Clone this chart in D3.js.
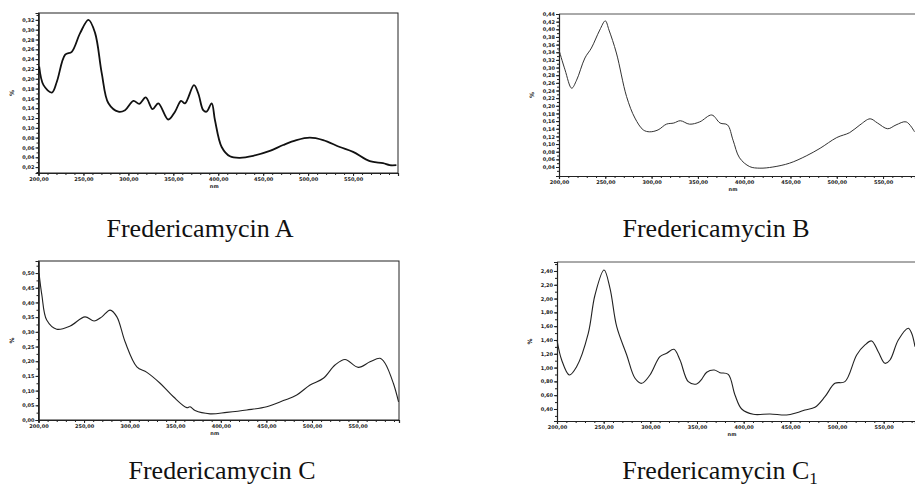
<!DOCTYPE html>
<html>
<head>
<meta charset="utf-8">
<script src="https://cdn.jsdelivr.net/npm/d3@7"></script>
<style>
	body { margin: 0; background: #fff; }
	svg { display: block; }
	.tick-label { font-family: "DejaVu Sans", sans-serif; font-size: 5px; font-weight: bold; fill: #222; }
	.title { font-family: "Liberation Serif", "Times New Roman", serif; font-size: 26px; fill: #111; }
</style>
</head>
<body>
<svg id="chart" width="915" height="488"></svg>
<script>
// Fredericamycin A
const aNm = [200.8, 205.6, 214.9, 220.4, 229.7, 237, 246.3, 255.6, 263, 270.4, 277.8, 288.9, 296.3, 305.6, 312.2, 319.3, 327, 333.3, 344.4, 351.9, 358.6, 363, 373, 377.8, 383.3, 387, 392.7, 396.3, 403.8, 413, 424, 438.9, 457.4, 472.2, 487, 501.9, 516.7, 535.2, 550, 568.6, 583.3, 590.8, 598.2];
const aAbs = [0.225, 0.187, 0.172, 0.194, 0.249, 0.255, 0.293, 0.320, 0.293, 0.211, 0.150, 0.133, 0.136, 0.155, 0.149, 0.162, 0.138, 0.150, 0.117, 0.133, 0.155, 0.150, 0.187, 0.170, 0.136, 0.133, 0.150, 0.116, 0.061, 0.042, 0.039, 0.043, 0.053, 0.065, 0.075, 0.080, 0.075, 0.061, 0.051, 0.032, 0.028, 0.024, 0.024];
const aYTicks = [0.02, 0.04, 0.06, 0.08, 0.10, 0.12, 0.14, 0.16, 0.18, 0.20, 0.22, 0.24, 0.26, 0.28, 0.30, 0.32];

// Fredericamycin B
const bNm = [200, 206.5, 213.7, 219, 228, 235, 244, 250, 254, 262, 273, 282, 291, 298, 307, 316, 324, 331, 341, 352, 365, 374, 382, 388, 395, 406, 417, 431, 449, 467, 482, 500, 514, 525, 536, 544, 555, 564, 575, 584];
const bAbs = [0.346, 0.294, 0.246, 0.267, 0.325, 0.351, 0.398, 0.422, 0.398, 0.338, 0.224, 0.168, 0.137, 0.132, 0.137, 0.152, 0.155, 0.161, 0.152, 0.158, 0.176, 0.155, 0.150, 0.110, 0.064, 0.041, 0.037, 0.040, 0.050, 0.069, 0.089, 0.117, 0.130, 0.150, 0.166, 0.155, 0.140, 0.150, 0.158, 0.132];
const bYTicks = [0.04, 0.06, 0.08, 0.10, 0.12, 0.14, 0.16, 0.18, 0.20, 0.22, 0.24, 0.26, 0.28, 0.30, 0.32, 0.34, 0.36, 0.38, 0.40, 0.42, 0.44];

// Fredericamycin C
const cNm = [200.6, 203.7, 209, 220, 234.8, 251, 261, 269.5, 278.6, 286, 295, 307.9, 318.9, 333.4, 348, 362.7, 366.3, 371.8, 388.3, 406.6, 428.5, 450.4, 468.6, 483.3, 497.9, 512.5, 525.3, 536.3, 550.9, 563.7, 574.7, 580.2, 589.3, 595];
const cAbs = [0.499, 0.425, 0.340, 0.309, 0.320, 0.351, 0.337, 0.351, 0.374, 0.351, 0.266, 0.181, 0.162, 0.125, 0.079, 0.042, 0.045, 0.032, 0.021, 0.026, 0.034, 0.045, 0.066, 0.085, 0.119, 0.142, 0.187, 0.206, 0.179, 0.198, 0.210, 0.193, 0.125, 0.062];
const cYTicks = [0.00, 0.05, 0.10, 0.15, 0.20, 0.25, 0.30, 0.35, 0.40, 0.45, 0.50];

// Fredericamycin C1
const dNm = [200, 205, 213.2, 221, 233.5, 240.7, 250.4, 256.8, 264, 274.7, 283.6, 290.7, 299.6, 310.3, 317.5, 325.3, 331.8, 340.7, 349.7, 355, 360.4, 368.5, 374.6, 383.5, 390.7, 397.9, 410.3, 428.2, 446, 456.8, 465.7, 476.4, 487.1, 497.8, 508.5, 521.1, 530, 537.1, 544.2, 551.4, 556.8, 565.7, 576.4, 580, 583.6];
const dAbs = [1.40, 1.11, 0.893, 1.013, 1.497, 2.052, 2.414, 2.149, 1.593, 1.183, 0.845, 0.772, 0.893, 1.158, 1.207, 1.265, 1.11, 0.796, 0.762, 0.83, 0.932, 0.965, 0.926, 0.902, 0.603, 0.40, 0.323, 0.328, 0.313, 0.346, 0.386, 0.425, 0.578, 0.772, 0.796, 1.183, 1.328, 1.386, 1.23, 1.062, 1.11, 1.40, 1.57, 1.497, 1.303];
const dYTicks = [0.40, 0.60, 0.80, 1.00, 1.20, 1.40, 1.60, 1.80, 2.00, 2.20, 2.40];

const xTicks = [200, 250, 300, 350, 400, 450, 500, 550];
const titles = ["Fredericamycin A", "Fredericamycin B", "Fredericamycin C", "Fredericamycin C"];

// layout of the four panels (pixel boxes + domains)
const panels = [
	{ nm: aNm, abs: aAbs, yTicks: aYTicks, title: titles[0], sub: "",
		box: { l: 38.5, t: 13, r: 398, b: 173 }, xDom: [200, 600], yDom: [0.008, 0.334],
		width: 1.8, color: "#111", fullFrame: true, titlePos: [200, 237] },
	{ nm: bNm, abs: bAbs, yTicks: bYTicks, title: titles[1], sub: "",
		box: { l: 559, t: 14, r: 915, b: 176 }, xDom: [200, 584.5], yDom: [0.0165, 0.44],
		width: 1, color: "#333", fullFrame: false, titlePos: [716, 237] },
	{ nm: cNm, abs: cAbs, yTicks: cYTicks, title: titles[2], sub: "",
		box: { l: 38.5, t: 261, r: 399, b: 420 }, xDom: [200, 595.5], yDom: [0, 0.541],
		width: 1.1, color: "#222", fullFrame: true, titlePos: [222, 479] },
	{ nm: dNm, abs: dAbs, yTicks: dYTicks, title: titles[3], sub: "1",
		box: { l: 557, t: 262, r: 915, b: 421 }, xDom: [200, 583.6], yDom: [0.226, 2.53],
		width: 1.1, color: "#222", fullFrame: false, titlePos: [720, 479] }
];

const svg = d3.select("#chart");
const comma = f => v => d3.format(f)(v).replace(".", ",");

panels.forEach(p => {
	const g = svg.append("g");
	const x = d3.scaleLinear().domain(p.xDom).range([p.box.l, p.box.r]);
	const y = d3.scaleLinear().domain(p.yDom).range([p.box.b, p.box.t]);

	// frame
	if (p.fullFrame) {
		g.append("rect")
			.attr("x", p.box.l).attr("y", p.box.t)
			.attr("width", p.box.r - p.box.l).attr("height", p.box.b - p.box.t)
			.attr("fill", "none").attr("stroke", "#222").attr("stroke-width", 1);
	} else {
		g.append("line")
			.attr("x1", p.box.l).attr("x2", p.box.r)
			.attr("y1", p.box.t).attr("y2", p.box.t)
			.attr("stroke", "#555").attr("stroke-width", 1);
	}

	// minor ticks
	const xAxisMinor = d3.axisBottom(x).tickValues(d3.range(200, p.xDom[1], 10)).tickSize(2).tickFormat("");
	g.append("g").attr("transform", `translate(0,${p.box.b})`).call(xAxisMinor)
		.call(a => a.selectAll("line,path").attr("stroke", "#222"));

	const step = p.yTicks[1] - p.yTicks[0];
	const yMinor = d3.range(p.yTicks[0] - step / 2, p.yDom[1], step / 2).filter(v => v >= p.yDom[0]);
	g.append("g").attr("transform", `translate(${p.box.l},0)`)
		.call(d3.axisLeft(y).tickValues(yMinor).tickSize(2).tickFormat(""))
		.call(a => a.selectAll("line,path").attr("stroke", "#222"));

	// major axes
	const xAxis = d3.axisBottom(x).tickValues(xTicks).tickSize(3).tickPadding(1).tickFormat(comma(".2f"));
	g.append("g").attr("transform", `translate(0,${p.box.b})`).call(xAxis)
		.call(a => a.select(".domain").attr("stroke", "#222").attr("stroke-width", 1.2))
		.call(a => a.selectAll(".tick line").attr("stroke", "#222"))
		.call(a => a.selectAll("text").attr("class", "tick-label").attr("font-size", null).attr("font-family", null));

	const yAxis = d3.axisLeft(y).tickValues(p.yTicks).tickSize(3).tickPadding(1).tickFormat(comma(".2f"));
	g.append("g").attr("transform", `translate(${p.box.l},0)`).call(yAxis)
		.call(a => a.select(".domain").attr("stroke", "#222").attr("stroke-width", 1.2))
		.call(a => a.selectAll(".tick line").attr("stroke", "#222"))
		.call(a => a.selectAll("text").attr("class", "tick-label").attr("font-size", null).attr("font-family", null));

	// axis titles
	g.append("text").attr("class", "tick-label")
		.attr("x", (p.box.l + p.box.r) / 2 - 4).attr("y", p.box.b + 15)
		.attr("text-anchor", "middle").text("nm");
	g.append("text").attr("class", "tick-label")
		.attr("transform", `translate(${p.box.l - 25},${(p.box.t + p.box.b) / 2}) rotate(-90)`)
		.attr("text-anchor", "middle").style("font-size", "6px").text("%");

	// spectrum
	const data = p.nm.map((v, i) => ({ x: v, y: p.abs[i] }));
	const line = d3.line()
		.x(d => x(d.x))
		.y(d => y(d.y))
		.curve(d3.curveCatmullRom.alpha(0.5));
	g.append("path")
		.datum(data)
		.attr("d", line)
		.attr("fill", "none")
		.attr("stroke", p.color)
		.attr("stroke-width", p.width)
		.attr("stroke-linejoin", "round");

	// caption
	const t = g.append("text").attr("class", "title")
		.attr("x", p.titlePos[0]).attr("y", p.titlePos[1])
		.attr("text-anchor", "middle").text(p.title);
	if (p.sub) {
		t.append("tspan").attr("dy", 5).style("font-size", "17px").text(p.sub);
	}
});
</script>
</body>
</html>
